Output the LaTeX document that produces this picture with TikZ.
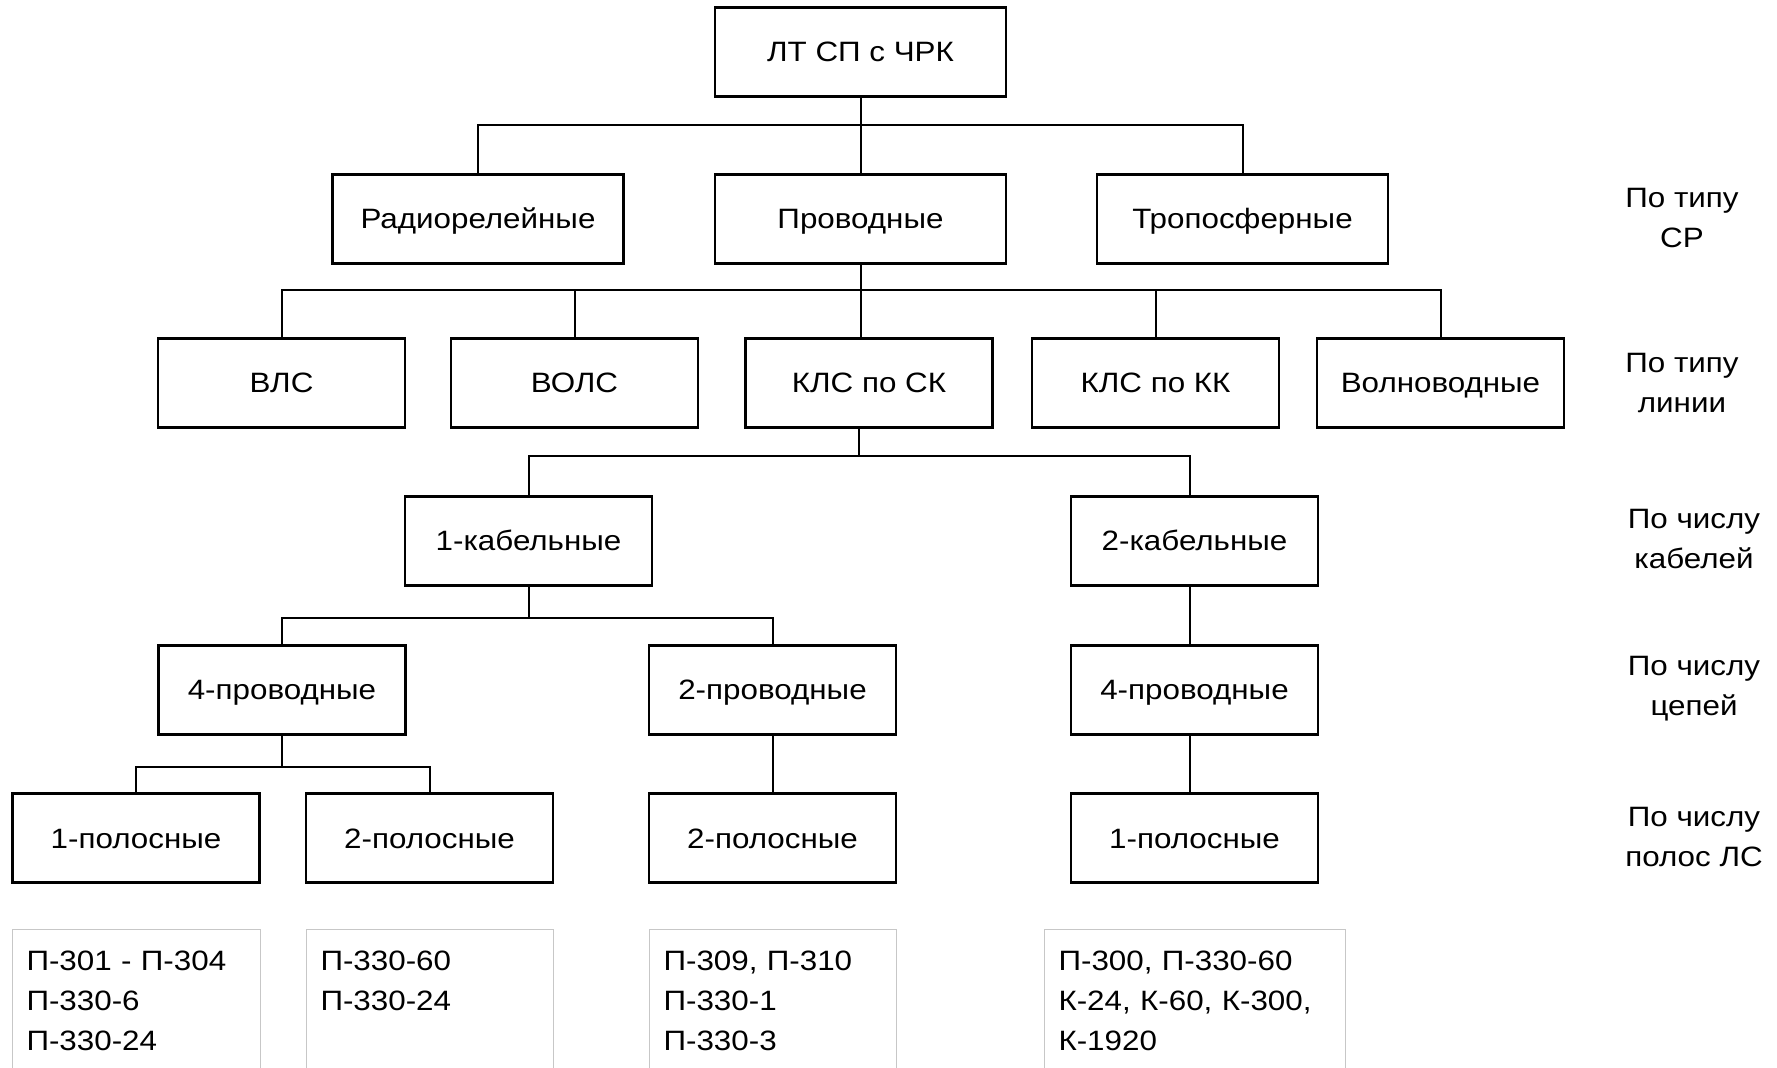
\documentclass[tikz,border=0pt]{standalone}
\usepackage{fontspec}
\setmainfont{Liberation Sans}[FakeStretch=1.12]
\usepackage{tikz}
\usetikzlibrary{positioning,calc}
\tikzstyle{every node}=[font=\fontsize{14pt}{20pt}\selectfont]
\tikzstyle{blok}=[rectangle, draw=black, line width=1.1pt,
  minimum width=123.5pt, minimum height=44.5pt, inner sep=0pt,
  text height=10pt, text depth=0pt]
\tikzstyle{shirokiy}=[minimum width=145.5pt]
\tikzstyle{spisok}=[rectangle, draw=black!22, line width=0.5pt,
  anchor=north west, align=left, inner xsep=7pt, inner ysep=0pt,
  text height=20.5pt, text depth=62pt]
\tikzstyle{kriteriy}=[align=center]
\tikzstyle{line} = [draw, line width=1pt]
\newcommand{\vetka}[3]{
\draw[line] (#1) -- (#1 |- #3) -| (#2);
}

\begin{document}
\begin{tikzpicture}[x=0.5pt,y=-0.5pt]
    \useasboundingbox (0,0) rectangle (1777,1068);
    % urovni
    \node (top)    [blok, shirokiy] at (860.5,52)  {ЛТ СП с ЧРК};
    \node (radio)  [blok, shirokiy] at (478,219)   {Радиорелейные};
    \node (prov)   [blok, shirokiy] at (860.5,219) {Проводные};
    \node (tropo)  [blok, shirokiy] at (1242.5,219) {Тропосферные};
    \node (vls)    [blok] at (281.5,383)  {ВЛС};
    \node (vols)   [blok] at (574.5,383)  {ВОЛС};
    \node (klssk)  [blok] at (869,383)    {КЛС по СК};
    \node (klskk)  [blok] at (1155.5,383) {КЛС по КК};
    \node (volnov) [blok] at (1440.5,383) {Волноводные};
    \node (kab1)   [blok] at (528.5,541)  {1-кабельные};
    \node (kab2)   [blok] at (1194.5,541) {2-кабельные};
    \node (pr4a)   [blok] at (282,690)    {4-проводные};
    \node (pr2)    [blok] at (772.5,690)  {2-проводные};
    \node (pr4b)   [blok] at (1194.5,690) {4-проводные};
    \node (pol1a)  [blok] at (136,838)    {1-полосные};
    \node (pol2a)  [blok] at (429.5,838)  {2-полосные};
    \node (pol2b)  [blok] at (772.5,838)  {2-полосные};
    \node (pol1b)  [blok] at (1194.5,838) {1-полосные};
    % shiny
    \coordinate (shina1) at (0,125);
    \coordinate (shina2) at (0,290);
    \coordinate (shina3) at (0,456);
    \coordinate (shina4) at (0,618);
    \coordinate (shina5) at (0,767);
    \coordinate (klsvyhod) at ([xshift=-5pt]klssk.south);
    \coordinate (kab2vhod) at ([xshift=-2.2pt]kab2.north);
    \vetka{top.south}{radio.north}{shina1}
    \vetka{top.south}{prov.north}{shina1}
    \vetka{top.south}{tropo.north}{shina1}
    \vetka{prov.south}{vls.north}{shina2}
    \vetka{prov.south}{vols.north}{shina2}
    \vetka{prov.south}{klskk.north}{shina2}
    \vetka{prov.south}{volnov.north}{shina2}
    \draw[line] (prov.south) -- (prov.south |- klssk.north);
    \vetka{klsvyhod}{kab1.north}{shina3}
    \vetka{klsvyhod}{kab2vhod}{shina3}
    \vetka{kab1.south}{pr4a.north}{shina4}
    \vetka{kab1.south}{pr2.north}{shina4}
    \vetka{pr4a.south}{pol1a.north}{shina5}
    \vetka{pr4a.south}{pol2a.north}{shina5}
    \draw[line] (kab2.south -| kab2vhod) -- (pr4b.north -| kab2vhod);
    \draw[line] (pr4b.south -| kab2vhod) -- (pol1b.north -| kab2vhod);
    \draw[line] (pr2.south) -- (pol2b.north);
    % kriterii
    \node (kr1) [kriteriy] at (1682,218) {По типу\\СР};
    \node (kr2) [kriteriy] at (1682,383) {По типу\\линии};
    \node (kr3) [kriteriy] at (1694,539) {По числу\\кабелей};
    \node (kr4) [kriteriy] at (1694,689) {По числу\\цепей};
    \node (kr5) [kriteriy] at (1694,837) {По числу\\полос ЛС};
    % apparatura
    \node (sp1) [spisok, text width=110pt] at (12,929)
          {П-301 - П-304\\П-330-6\\П-330-24};
    \node (sp2) [spisok, text width=109.5pt] at (306,929)
          {П-330-60\\П-330-24};
    \node (sp3) [spisok, text width=109.5pt] at (649,929)
          {П-309, П-310\\П-330-1\\П-330-3};
    \node (sp4) [spisok, text width=136.5pt] at (1044,929)
          {П-300, П-330-60\\К-24, К-60, К-300,\\К-1920};
\end{tikzpicture}
\end{document}
